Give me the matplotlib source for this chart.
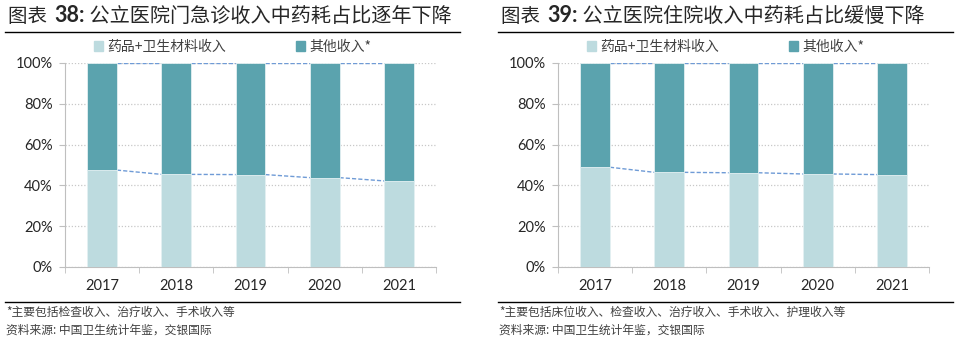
import matplotlib
matplotlib.use("Agg")
import matplotlib.pyplot as plt
from matplotlib.patches import Patch

plt.rcParams["font.family"] = ["Noto Sans CJK SC", "DejaVu Sans"]

years = ["2017", "2018", "2019", "2020", "2021"]

# share of drugs + medical consumables (%)
outpatient_drug = [47.5, 45.4, 45.3, 43.8, 42.2]
inpatient_drug = [48.9, 46.4, 46.2, 45.6, 45.3]

titles = ["公立医院门急诊收入中药耗占比逐年下降", "公立医院住院收入中药耗占比缓慢下降"]
fig_nums = ["38:", "39:"]
legend_labels = ["药品+卫生材料收入", "其他收入*"]
notes = ["*主要包括检查收入、治疗收入、手术收入等",
         "*主要包括床位收入、检查收入、治疗收入、手术收入、护理收入等"]
source = "资料来源: 中国卫生统计年鉴，交银国际"

LIGHT = "#BDDBDF"
DARK = "#5BA3AE"
LINE = "#6F9BD6"
TXT = "#262626"

W, H = 961, 342
fig = plt.figure(figsize=(W / 100, H / 100), dpi=100)


def fx(px):
    return px / W


def fy(py):
    return 1 - py / H


def draw_panel(x0, axl, axr, drug, title, num, note):
    ax = fig.add_axes([fx(axl), fy(267), fx(axr - axl), fy(63) - fy(267)])
    x = list(range(len(years)))
    other = [100 - v for v in drug]
    bw = 0.4
    ax.bar(x, drug, bw, color=LIGHT, edgecolor="#E3F0F2", linewidth=0.6, zorder=3)
    ax.bar(x, other, bw, bottom=drug, color=DARK, edgecolor="#E3F0F2", linewidth=0.6, zorder=3)

    # series lines between bars
    for i in range(len(x) - 1):
        ax.plot([x[i] + bw / 2, x[i + 1] - bw / 2], [drug[i], drug[i + 1]],
                color=LINE, lw=1, dashes=(3, 1.5), zorder=2)
        ax.plot([x[i] + bw / 2, x[i + 1] - bw / 2], [100, 100],
                color=LINE, lw=1, dashes=(3, 1.5), zorder=2)

    ax.set_xlim(-0.5, len(x) - 0.5)
    ax.set_ylim(0, 100)
    ax.set_yticks(range(0, 101, 20))
    ax.set_yticklabels([f"{v}%" for v in range(0, 101, 20)])
    ax.set_xticks(x)
    ax.set_xticklabels(years)
    ax.set_xticks([i - 0.5 for i in range(len(x) + 1)], minor=True)
    ax.tick_params(axis="x", which="major", length=0, pad=9, labelsize=10.5, labelcolor=TXT)
    ax.tick_params(axis="x", which="minor", length=4, color="#BFBFBF")
    ax.tick_params(axis="y", length=4, color="#BFBFBF", pad=5, labelsize=10.5, labelcolor=TXT)
    for t in ax.get_xticklabels() + ax.get_yticklabels():
        t.set_family(["Lato", "DejaVu Sans"])
    ax.grid(axis="y", color="#C8C8C8", ls=(0, (1, 1.5)), lw=0.9, zorder=1)
    ax.set_axisbelow(True)
    for s in ["top", "right"]:
        ax.spines[s].set_visible(False)
    for s in ["left", "bottom"]:
        ax.spines[s].set_color("#BFBFBF")

    # title in pieces: 图表 / bold number / text
    t1 = fig.text(fx(x0 + 3), fy(16), "图表 ", fontsize=14, color=TXT, va="center")
    t2 = ax.annotate(num, xycoords=t1, xy=(1, 0.5), xytext=(3, 0),
                     textcoords="offset pixels", va="center", fontsize=15.5,
                     fontweight="bold", color=TXT, family=["Lato", "DejaVu Sans"],
                     annotation_clip=False)
    ax.annotate(" " + title, xycoords=t2, xy=(1, 0.5), va="center", fontsize=14.5,
                color=TXT, annotation_clip=False)
    fig.add_artist(plt.Line2D([fx(x0), fx(x0 + 455)], [fy(32), fy(32)],
                              color="black", lw=1))
    fig.add_artist(plt.Line2D([fx(x0), fx(x0 + 455)], [fy(302), fy(302)],
                              color="black", lw=1))

    handles = [Patch(color=LIGHT), Patch(color=DARK)]
    fig.legend(handles, legend_labels, loc="center left",
               bbox_to_anchor=(fx(axl + 16), fy(47)), ncol=2, frameon=False,
               fontsize=10, handlelength=0.7, handleheight=0.7, handletextpad=0.3,
               columnspacing=5.0, labelcolor="#404040")

    fig.text(fx(x0 + 1), fy(312), note, fontsize=8.5, color="#404040", va="center")
    fig.text(fx(x0 + 1), fy(330), source, fontsize=8.5, color="#404040", va="center")


draw_panel(5, 65, 436, outpatient_drug, titles[0], fig_nums[0], notes[0])
draw_panel(498, 558, 929, inpatient_drug, titles[1], fig_nums[1], notes[1])

fig.savefig("out.png", dpi=100)
